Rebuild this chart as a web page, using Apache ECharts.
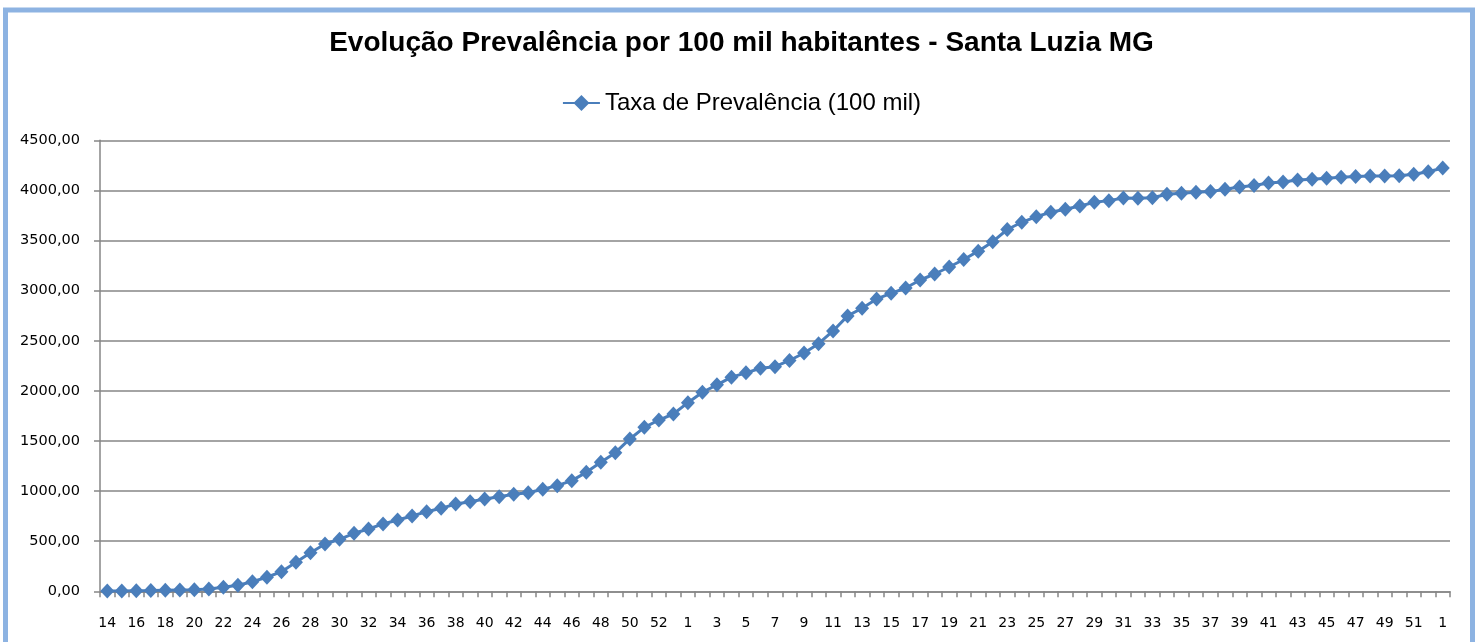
<!DOCTYPE html>
<html>
<head>
<meta charset="utf-8">
<script src="https://cdn.jsdelivr.net/npm/echarts@6/dist/echarts.min.js"></script>
<style>
html,body{margin:0;padding:0;background:#fff;}
#chart{width:1483px;height:642px;}
</style>
</head>
<body>
<div id="chart"></div>
<script>
const weeks2020 = [14,15,16,17,18,19,20,21,22,23,24,25,26,27,28,29,30,31,32,33,34,35,36,37,38,39,40,41,42,43,44,45,46,47,48,49,50,51,52,53];
const weeks2021 = [1,2,3,4,5,6,7,8,9,10,11,12,13,14,15,16,17,18,19,20,21,22,23,24,25,26,27,28,29,30,31,32,33,34,35,36,37,38,39,40,41,42,43,44,45,46,47,48,49,50,51,52];
const weeks2022 = [1];
const categories = weeks2020.concat(weeks2021, weeks2022).map(String);

const prevalencia = [
  2, 4, 6, 8, 11, 13, 15, 23, 40, 60,
  96, 140, 196, 289, 385, 472, 519, 579, 622, 672,
  711, 752, 794, 828, 871, 894, 921, 944, 968, 984,
  1018, 1054, 1104, 1187, 1287, 1383, 1520, 1636, 1709, 1769,
  1882, 1986, 2060, 2137, 2180, 2225, 2241, 2303, 2378, 2471,
  2598, 2748, 2824, 2917, 2973, 3026, 3106, 3166, 3236, 3311,
  3394, 3488, 3610, 3682, 3738, 3782, 3812, 3845, 3881, 3898,
  3924, 3921, 3927, 3961, 3971, 3981, 3988, 4011, 4034, 4049,
  4074, 4084, 4104, 4111, 4121, 4131, 4140, 4144, 4145, 4147,
  4162, 4187, 4223
];

const titleText = 'Evolução Prevalência por 100 mil habitantes - Santa Luzia MG';
const seriesName = 'Taxa de Prevalência (100 mil)';

const chart = echarts.init(document.getElementById('chart'));
chart.setOption({
  backgroundColor: '#ffffff',
  animation: false,
  graphic: [{
    type: 'rect',
    shape: { x: 5.5, y: 10, width: 1467, height: 700 },
    style: { fill: 'none', stroke: '#8DB3E2', lineWidth: 5 },
    silent: true
  }],
  title: {
    text: titleText,
    left: 'center',
    top: 29,
    padding: 0,
    textStyle: { fontFamily: 'Liberation Sans, Arial, sans-serif', fontWeight: 'bold', fontSize: 28, color: '#000' }
  },
  legend: {
    data: [seriesName],
    top: 86,
    left: 'center',
    itemWidth: 37,
    itemHeight: 20,
    itemGap: 4,
    textStyle: { fontFamily: 'Liberation Sans, Arial, sans-serif', fontSize: 24, color: '#000' }
  },
  grid: { left: 100, right: 33, top: 140.3, bottom: 50.7, containLabel: false },
  xAxis: {
    type: 'category',
    data: categories,
    boundaryGap: true,
    axisLine: { show: true, lineStyle: { color: '#868686', width: 1.5 } },
    axisTick: { show: true, interval: 0, alignWithLabel: false, length: 6, lineStyle: { color: '#868686', width: 1.5 } },
    axisLabel: { interval: 1, margin: 25, fontFamily: 'DejaVu Sans, sans-serif', fontSize: 14, color: '#000' },
    splitLine: { show: false }
  },
  yAxis: {
    type: 'value',
    min: 0,
    max: 4500,
    interval: 500,
    axisLine: { show: true, lineStyle: { color: '#868686', width: 1.5 } },
    axisTick: { show: true, length: 6, lineStyle: { color: '#868686', width: 1.5 } },
    axisLabel: {
      margin: 20,
      fontFamily: 'DejaVu Sans, sans-serif',
      fontSize: 14.5,
      color: '#000',
      formatter: v => v.toFixed(2).replace('.', ',')
    },
    splitLine: { show: true, lineStyle: { color: '#868686', width: 1.5 } }
  },
  series: [{
    name: seriesName,
    type: 'line',
    data: prevalencia,
    symbol: 'diamond',
    symbolSize: [14, 15],
    showAllSymbol: true,
    lineStyle: { color: '#4A7EBB', width: 3 },
    itemStyle: { color: '#4A7EBB', borderWidth: 0 }
  }]
});
</script>
</body>
</html>
